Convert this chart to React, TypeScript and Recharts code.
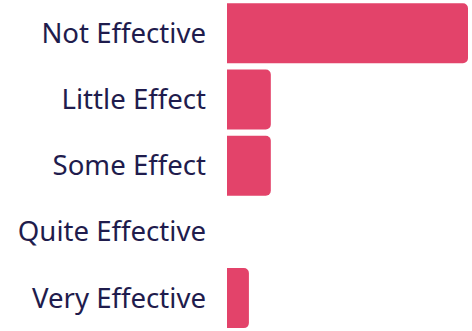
import React from "react";
import { BarChart, Bar, XAxis, YAxis } from "recharts";

const categories = ["Not Effective", "Little Effect", "Some Effect", "Quite Effective", "Very Effective"];
const counts = [11, 2, 2, 0, 1];

const data = categories.map((name, i) => ({ name, value: counts[i] }));

export default function App() {
  return (
    <div style={{ position: "absolute", left: 0, top: 0 }}>
      <BarChart
        width={472}
        height={331}
        data={data}
        layout="vertical"
        margin={{ top: 0, right: 4, bottom: 0, left: 0 }}
        barCategoryGap="5%"
      >
        <XAxis type="number" domain={[0, 11]} hide />
        <YAxis
          type="category"
          dataKey="name"
          width={227}
          axisLine={false}
          tickLine={false}
          tickMargin={0}
          tick={{ fill: "#1f1c4d", fontSize: 27.6, fontFamily: "Noto Sans" }}
          dx={-15}
        />
        <Bar dataKey="value" fill="#e3436a" radius={[0, 5, 5, 0]} isAnimationActive={false} />
      </BarChart>
    </div>
  );
}
